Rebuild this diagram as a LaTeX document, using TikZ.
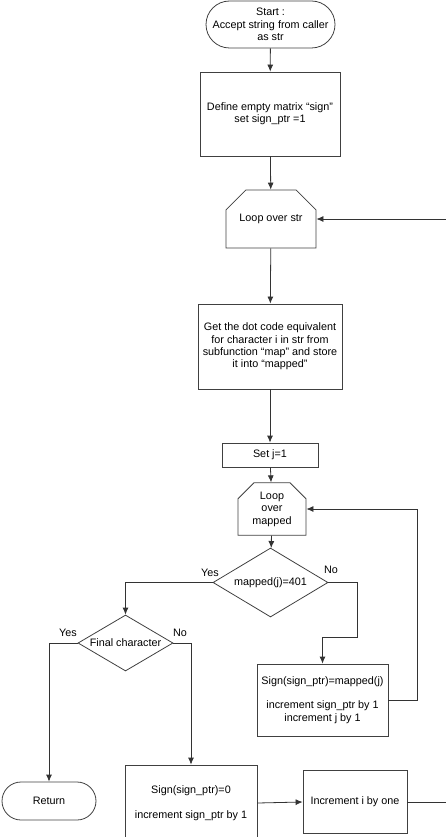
\documentclass[tikz,border=0pt]{standalone}
\usepackage{fontspec}
\setmainfont{Liberation Sans}
\usetikzlibrary{shapes.misc,shapes.geometric,arrows.meta}
\begin{document}
\begin{tikzpicture}[x=1pt,y=-1pt,>={Latex[length=7pt,width=6pt]},font=\fontsize{10.8}{12.4}\selectfont]
        \tikzstyle{terminal}=[rounded rectangle,draw=black!75,line width=0.8pt,inner sep=0pt,align=center]
        \tikzstyle{process}=[rectangle,draw=black!75,line width=0.8pt,inner sep=0pt,align=center]
        \tikzstyle{looplimit}=[chamfered rectangle,chamfered rectangle corners={north west,north east},draw=black!75,line width=0.8pt,inner sep=0pt,align=center]
        \tikzstyle{decision}=[diamond,aspect=1.7,draw=black!75,line width=0.8pt,inner sep=0pt,align=center]
        \tikzstyle{edge}=[draw,->,black!80,line width=0.8pt]
        \useasboundingbox (0,0) rectangle (445,837);
       \begin{scope}
         \node [terminal,minimum width=129pt,minimum height=47pt] (start) at (270.5,24.5) {Start :\\Accept string from caller\\as str};
         \node [process,minimum width=140pt,minimum height=84pt] (define) at (270,114) {Define empty matrix “sign”\\set sign\_ptr =1};
         \node [looplimit,minimum width=90pt,minimum height=58pt,chamfered rectangle xsep=16pt,chamfered rectangle ysep=15pt] (loopstr) at (271,219) {Loop over str};
         \node [process,minimum width=144pt,minimum height=85pt] (getcode) at (270,346.5) {Get the dot code equivalent\\for character i in str from\\subfunction “map” and store\\it into “mapped”};
         \node [process,minimum width=96pt,minimum height=24pt] (setj) at (270,455) {Set j=1};
         \node [looplimit,minimum width=68pt,minimum height=42pt,chamfered rectangle xsep=7pt,chamfered rectangle ysep=9pt] (loopmap) at (272,509) {Loop\\over\\mapped};
         \node [decision,minimum width=115pt,minimum height=69pt] (test) at (270.5,582.5) {mapped(j)=401};
         \node [decision,minimum width=95pt,minimum height=56pt] (final) at (125.5,643) {Final character};
         \node [process,minimum width=131pt,minimum height=72pt] (signmap) at (322.5,700) {Sign(sign\_ptr)=mapped(j)\\[12pt]increment sign\_ptr by 1\\increment j by 1};
         \node [terminal,minimum width=94pt,minimum height=38pt] (ret) at (49,801) {Return};
         \node [process,minimum width=132pt,minimum height=76pt] (signzero) at (191,803) {Sign(sign\_ptr)=0\\[12pt]increment sign\_ptr by 1};
         \node [process,minimum width=104pt,minimum height=63pt] (incr) at (355,802) {Increment i by one};
         \node (yes1) at (210,573) {Yes};
         \node (no1) at (331,570) {No};
         \node (yes2) at (68,633) {Yes};
         \node (no2) at (180,633) {No};
         \coordinate (nobend) at (357,637);
         \coordinate (backj) at (417,509);
         \coordinate (backi) at (448,219);
         \path[edge] (start) -- (define);
         \path[edge] (define) -- (loopstr);
         \path[edge] (loopstr) -- (getcode);
         \path[edge] (getcode) -- (setj);
         \path[edge] (setj) -- (loopmap);
         \path[edge] (loopmap) -- (test);
         \path[edge] (test.east) -| (nobend) -| (signmap.north);
         \path[edge] (signmap.east) -| (backj) -- (loopmap.east);
         \path[edge] (test.west) -| (final.north);
         \path[edge] (final.west) -| (ret.north);
         \path[edge] (final.east) -| (signzero.north);
         \path[edge] (signzero.east) -- (incr.west);
         \path[edge] (incr.east) -| (backi) -- (loopstr.east);
        \end{scope}
      \end{tikzpicture}
\end{document}
